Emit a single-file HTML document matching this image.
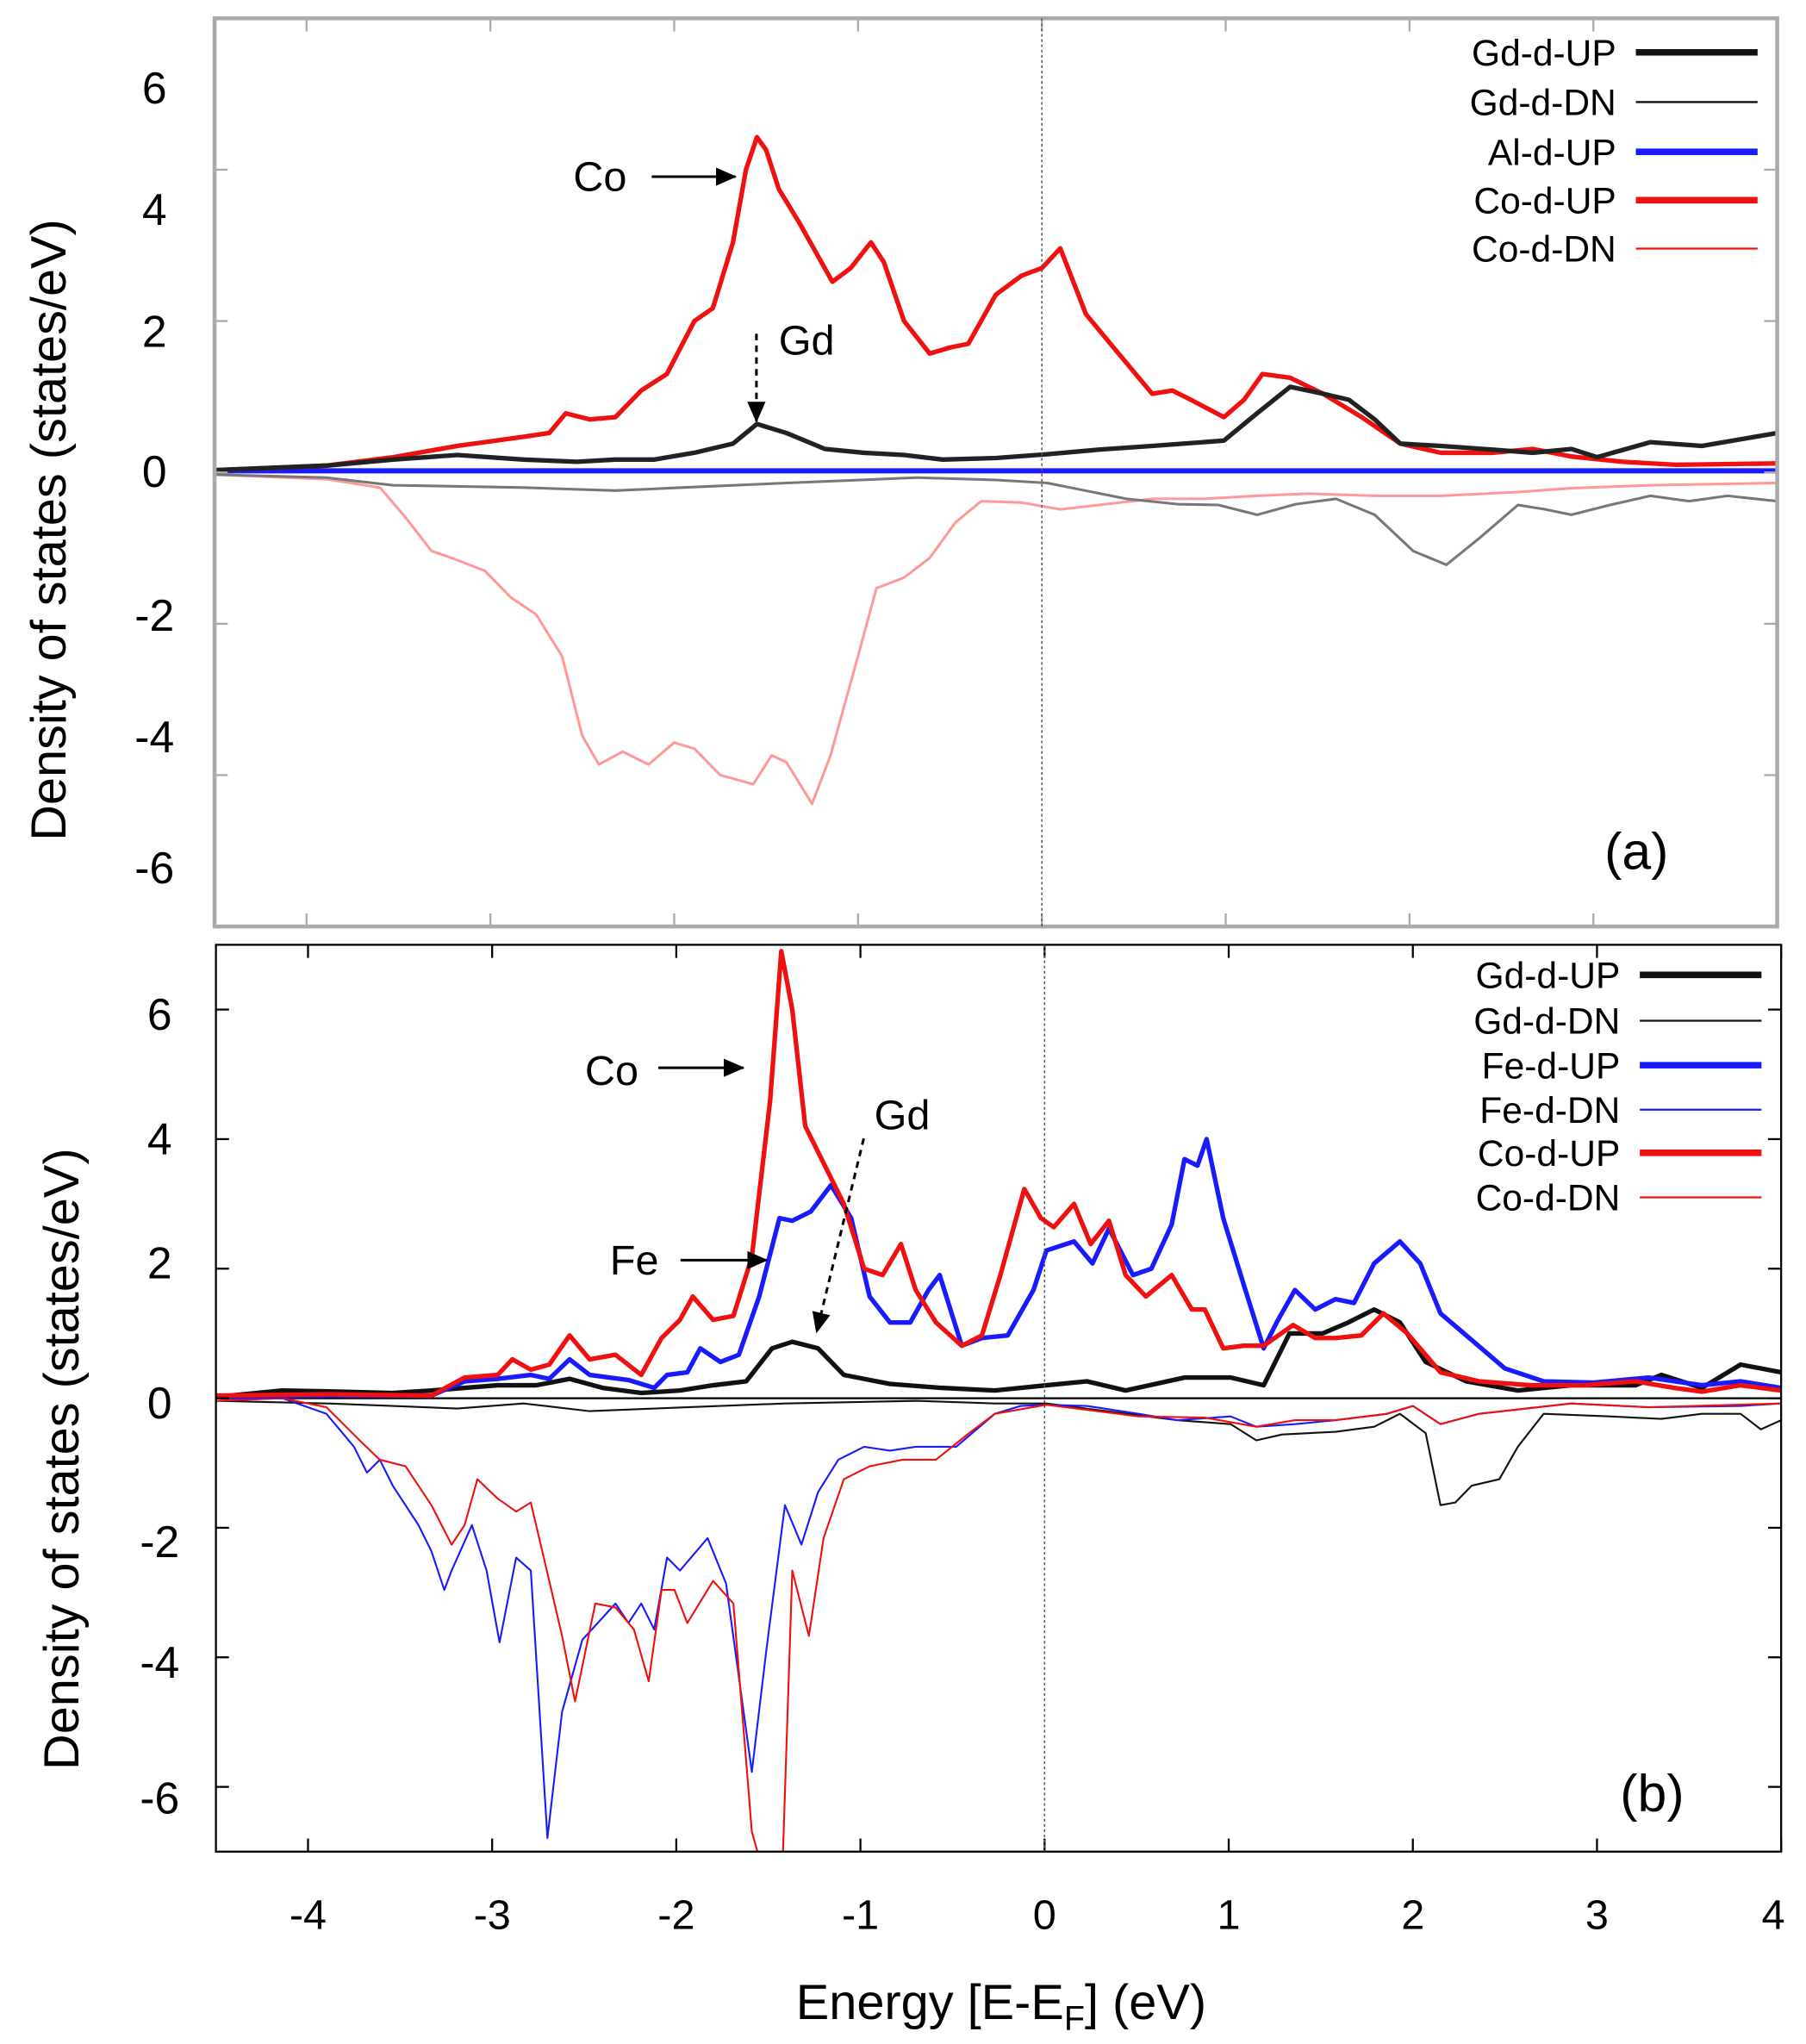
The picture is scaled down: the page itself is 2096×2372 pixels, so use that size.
<!DOCTYPE html>
<html><head><meta charset="utf-8"><style>
html,body{margin:0;padding:0;background:#fff}
svg{display:block}
text{font-family:"Liberation Sans",sans-serif;fill:#000}
</style></head><body>
<svg id="fig" width="2096" height="2372" viewBox="0 0 1380 1562" preserveAspectRatio="none" xmlns="http://www.w3.org/2000/svg">
<defs>
<clipPath id="clipA"><rect x="164" y="14" width="1194" height="694"/></clipPath>
<clipPath id="clipB"><rect x="165" y="722" width="1196" height="693"/></clipPath>
<marker id="arr" markerWidth="10" markerHeight="10" refX="9" refY="5" orient="auto" markerUnits="userSpaceOnUse"><path d="M0,0 L10,5 L0,10 z" fill="#000"/></marker>
<marker id="arr2" markerWidth="16" markerHeight="14" refX="15" refY="7" orient="auto" markerUnits="userSpaceOnUse"><path d="M0,0 L16,7 L0,14 z" fill="#000"/></marker>
</defs>
<g id="panelA"></g>
<g id="panelB"></g>
<text transform="translate(50,405) rotate(-90)" text-anchor="middle" font-size="38">Density of states (states/eV)</text>
<text transform="translate(60,1115) rotate(-90)" text-anchor="middle" font-size="38">Density of states (states/eV)</text>
<text x="765" y="1543" text-anchor="middle" font-size="38">Energy [E-E<tspan font-size="26" dy="8">F</tspan><tspan dy="-8">] (eV)</tspan></text>
</svg>
<script>
// ---------- Panel (a) data ----------
const aCoUpE=[-4.5,-3.89,-3.53,-3.18,-2.82,-2.68,-2.59,-2.46,-2.32,-2.18,-2.04,-1.89,-1.79,-1.68,-1.61,-1.55,-1.50,-1.43,-1.32,-1.14,-1.04,-0.93,-0.86,-0.75,-0.61,-0.50,-0.40,-0.25,-0.11,0,0.10,0.24,0.39,0.60,0.71,0.81,0.99,1.10,1.20,1.35,1.53,1.74,1.95,2.17,2.45,2.67,2.88,3.16,3.45,4];
const aCoUpV=[0.03,0.09,0.2,0.35,0.47,0.52,0.78,0.7,0.73,1.08,1.3,2.0,2.17,3.04,4.0,4.43,4.26,3.74,3.3,2.52,2.7,3.04,2.78,2.0,1.57,1.65,1.7,2.35,2.6,2.7,2.96,2.09,1.65,1.04,1.08,0.96,0.73,0.96,1.3,1.25,1.04,0.73,0.38,0.26,0.26,0.31,0.21,0.14,0.1,0.12];
const aGdUpE=[-4.5,-3.89,-3.53,-3.18,-2.82,-2.53,-2.32,-2.11,-1.89,-1.68,-1.55,-1.39,-1.18,-0.97,-0.75,-0.54,-0.25,0.03,0.31,0.60,0.99,1.17,1.35,1.53,1.67,1.81,1.95,2.17,2.45,2.67,2.88,3.02,3.31,3.59,4];
const aGdUpV=[0.03,0.09,0.17,0.23,0.17,0.14,0.17,0.17,0.26,0.38,0.64,0.52,0.31,0.26,0.23,0.17,0.19,0.24,0.3,0.35,0.42,0.78,1.13,1.04,0.96,0.7,0.38,0.35,0.3,0.26,0.31,0.2,0.4,0.35,0.52];
const aCoDnE=[-4.5,-3.89,-3.6,-3.46,-3.32,-3.21,-3.03,-2.89,-2.75,-2.61,-2.5,-2.41,-2.28,-2.14,-2.0,-1.89,-1.75,-1.57,-1.47,-1.39,-1.25,-1.15,-1.0,-0.9,-0.75,-0.61,-0.47,-0.33,-0.11,0.1,0.31,0.6,0.88,1.17,1.45,1.81,2.17,2.59,2.88,3.31,4];
const aCoDnV=[-0.03,-0.09,-0.2,-0.6,-1.04,-1.13,-1.3,-1.65,-1.88,-2.43,-3.48,-3.86,-3.69,-3.86,-3.57,-3.65,-4.0,-4.12,-3.74,-3.83,-4.38,-3.74,-2.43,-1.53,-1.39,-1.13,-0.66,-0.38,-0.4,-0.49,-0.43,-0.35,-0.35,-0.31,-0.28,-0.31,-0.31,-0.26,-0.21,-0.17,-0.14];
const aGdDnE=[-4.5,-3.89,-3.53,-2.82,-2.32,-1.96,-1.39,-0.68,-0.25,0.03,0.46,0.74,0.96,1.17,1.38,1.6,1.81,2.02,2.2,2.38,2.59,2.74,2.88,3.09,3.31,3.52,3.73,4];
const aGdDnV=[-0.03,-0.07,-0.17,-0.2,-0.24,-0.2,-0.14,-0.07,-0.1,-0.14,-0.35,-0.42,-0.43,-0.56,-0.42,-0.35,-0.56,-1.04,-1.22,-0.87,-0.43,-0.49,-0.56,-0.43,-0.31,-0.38,-0.31,-0.38];
const aAlUpE=[-4.5,-2,0,2,4];
const aAlUpV=[0.02,0.02,0.02,0.02,0.02];
// ---------- Panel (b) data ----------
const bCoUpE=[-4.5,-3.9,-3.33,-3.15,-2.97,-2.89,-2.79,-2.69,-2.58,-2.47,-2.33,-2.19,-2.08,-1.98,-1.91,-1.8,-1.69,-1.59,-1.49,-1.43,-1.37,-1.3,-1.2,-1.09,-0.98,-0.88,-0.78,-0.7,-0.59,-0.45,-0.34,-0.24,-0.11,-0.02,0.05,0.16,0.25,0.35,0.44,0.55,0.69,0.8,0.87,0.97,1.08,1.19,1.35,1.47,1.58,1.72,1.84,1.97,2.15,2.36,2.64,2.93,3.21,3.42,3.57,3.78,4];
const bCoUpV=[0.04,0.06,0.04,0.32,0.36,0.6,0.44,0.52,0.97,0.6,0.67,0.36,0.93,1.21,1.57,1.21,1.27,2.18,4.6,6.9,6.0,4.2,3.63,3.0,2.0,1.9,2.38,1.67,1.17,0.81,0.97,1.9,3.23,2.78,2.64,3.0,2.38,2.74,1.9,1.57,1.9,1.37,1.37,0.77,0.81,0.81,1.13,0.93,0.93,0.97,1.31,1.0,0.4,0.26,0.2,0.2,0.26,0.16,0.1,0.2,0.12];
const bFeUpE=[-4.5,-3.9,-3.33,-3.15,-2.97,-2.79,-2.69,-2.58,-2.47,-2.26,-2.12,-2.05,-1.94,-1.87,-1.76,-1.66,-1.55,-1.44,-1.37,-1.27,-1.16,-1.05,-0.95,-0.84,-0.73,-0.63,-0.57,-0.45,-0.34,-0.2,-0.06,0.01,0.16,0.26,0.35,0.48,0.58,0.69,0.76,0.83,0.88,0.97,1.08,1.19,1.26,1.36,1.47,1.58,1.68,1.79,1.93,2.04,2.15,2.29,2.5,2.71,2.98,3.28,3.57,3.78,4];
const bFeUpV=[0.02,0.04,0.04,0.26,0.3,0.36,0.3,0.6,0.36,0.28,0.16,0.36,0.4,0.77,0.56,0.67,1.57,2.78,2.74,2.88,3.29,2.78,1.57,1.17,1.17,1.67,1.9,0.81,0.93,0.97,1.67,2.28,2.42,2.08,2.62,1.9,2.0,2.68,3.69,3.59,4.0,2.78,1.77,0.77,1.17,1.67,1.37,1.53,1.47,2.08,2.42,2.08,1.31,0.97,0.46,0.26,0.24,0.32,0.2,0.26,0.16];
const bGdUpE=[-4.5,-4.14,-3.82,-3.54,-3.33,-2.97,-2.76,-2.58,-2.4,-2.19,-1.98,-1.8,-1.62,-1.48,-1.37,-1.23,-1.09,-0.84,-0.56,-0.27,0.01,0.23,0.44,0.76,1.01,1.19,1.33,1.51,1.65,1.79,1.93,2.07,2.29,2.57,2.86,3.21,3.35,3.57,3.78,4];
const bGdUpV=[0.02,0.12,0.1,0.08,0.12,0.2,0.2,0.3,0.16,0.08,0.12,0.2,0.26,0.77,0.87,0.77,0.36,0.22,0.16,0.12,0.2,0.26,0.12,0.32,0.32,0.2,1.0,1.0,1.17,1.37,1.17,0.56,0.26,0.12,0.2,0.2,0.36,0.16,0.52,0.4];
const bFeDnE=[-4.5,-4.14,-3.9,-3.75,-3.68,-3.61,-3.54,-3.4,-3.33,-3.26,-3.22,-3.11,-3.03,-2.96,-2.87,-2.79,-2.7,-2.62,-2.51,-2.33,-2.26,-2.19,-2.12,-2.05,-1.98,-1.83,-1.73,-1.59,-1.51,-1.41,-1.32,-1.23,-1.12,-0.98,-0.84,-0.7,-0.48,-0.27,-0.13,0.01,0.23,0.51,0.72,1.01,1.15,1.36,1.58,1.86,2.0,2.15,2.36,2.86,3.28,3.78,4];
const bFeDnV=[-0.04,0,-0.24,-0.75,-1.15,-0.95,-1.35,-1.96,-2.36,-2.96,-2.66,-1.96,-2.66,-3.77,-2.46,-2.66,-6.79,-4.84,-3.73,-3.17,-3.47,-3.17,-3.57,-2.46,-2.66,-2.16,-2.86,-5.77,-3.87,-1.65,-2.26,-1.45,-0.95,-0.75,-0.81,-0.75,-0.75,-0.24,-0.12,-0.1,-0.12,-0.24,-0.34,-0.28,-0.44,-0.4,-0.34,-0.24,-0.12,-0.4,-0.24,-0.08,-0.14,-0.12,-0.08];
const bCoDnE=[-4.5,-4.14,-3.9,-3.72,-3.61,-3.47,-3.33,-3.22,-3.15,-3.08,-2.97,-2.87,-2.79,-2.72,-2.62,-2.55,-2.44,-2.33,-2.23,-2.15,-2.08,-2.01,-1.94,-1.8,-1.69,-1.59,-1.48,-1.43,-1.37,-1.28,-1.2,-1.09,-0.95,-0.77,-0.59,-0.41,-0.27,0.01,0.51,0.87,1.15,1.36,1.58,1.86,2.0,2.15,2.36,2.86,3.28,4];
const bCoDnV=[-0.04,0,-0.14,-0.65,-0.95,-1.05,-1.65,-2.26,-1.96,-1.25,-1.55,-1.75,-1.61,-2.46,-3.67,-4.68,-3.17,-3.23,-3.57,-4.37,-2.96,-2.96,-3.47,-2.82,-3.17,-6.69,-7.8,-7.8,-2.66,-3.67,-2.16,-1.25,-1.05,-0.95,-0.95,-0.54,-0.24,-0.1,-0.28,-0.3,-0.44,-0.34,-0.34,-0.24,-0.12,-0.4,-0.24,-0.08,-0.14,-0.08];
const bGdDnE=[-4.5,-3.9,-3.54,-3.19,-2.83,-2.47,-2.12,-1.41,-0.7,-0.27,0.01,0.72,1.01,1.15,1.29,1.43,1.58,1.79,1.93,2.07,2.15,2.23,2.32,2.47,2.57,2.71,3.07,3.35,3.57,3.78,3.89,4];
const bGdDnV=[-0.04,-0.08,-0.12,-0.16,-0.08,-0.2,-0.16,-0.08,-0.04,-0.08,-0.08,-0.34,-0.4,-0.65,-0.56,-0.54,-0.52,-0.44,-0.24,-0.54,-1.65,-1.61,-1.35,-1.25,-0.75,-0.24,-0.28,-0.32,-0.24,-0.24,-0.48,-0.34];
const xTicks=[-4,-3,-2,-1,0,1,2,3,4];
const aYTicks=[-4,-2,0,2,4];
const bYTicks=[-6,-4,-2,0,2,4,6];

const NS="http://www.w3.org/2000/svg";
function mk(tag,attrs,parent){const e=document.createElementNS(NS,tag);for(const k in attrs)e.setAttribute(k,attrs[k]);parent.appendChild(e);return e;}
// axis functions
const A={x0:164,x1:1358,y0:14,y1:708,emin:-4.5,emax:4,vmin:-6,vmax:6};
const B={x0:165,x1:1361,y0:722,y1:1415,emin:-4.5,emax:4,vmin:-7,vmax:7};
function sx(P,e){return P.x0+(e-P.emin)/(P.emax-P.emin)*(P.x1-P.x0);}
function sy(P,v){return P.y1-(v-P.vmin)/(P.vmax-P.vmin)*(P.y1-P.y0);}
function series(g,P,E,V,color,w,name,clip){
  const pts=E.map((e,i)=>sx(P,e).toFixed(1)+","+sy(P,V[i]).toFixed(1)).join(" ");
  const p=mk("polyline",{points:pts,fill:"none",stroke:color,"stroke-width":w,"stroke-linejoin":"round","clip-path":clip},g);
  
  
}
function frame(g,P,col,w,yt,name){
  const r=mk("rect",{x:P.x0,y:P.y0,width:P.x1-P.x0,height:P.y1-P.y0,fill:"none",stroke:col,"stroke-width":w},g);
  
  
  xTicks.forEach(t=>{const x=sx(P,t);
    const a=mk("line",{x1:x,x2:x,y1:P.y0,y2:P.y0+10,stroke:col,"stroke-width":1.5},g);
    
    
    const b=mk("line",{x1:x,x2:x,y1:P.y1,y2:P.y1-10,stroke:col,"stroke-width":1.5},g);
    
    });
  yt.forEach(t=>{const y=sy(P,t);
    const a=mk("line",{x1:P.x0,x2:P.x0+10,y1:y,y2:y,stroke:col,"stroke-width":1.5},g);
    
    
    const b=mk("line",{x1:P.x1,x2:P.x1-10,y1:y,y2:y,stroke:col,"stroke-width":1.5},g);
    
    });
  const z=mk("line",{x1:sx(P,0),x2:sx(P,0),y1:P.y0,y2:P.y1,stroke:"#555","stroke-width":1,"stroke-dasharray":"2,2"},g);
  
  
}
function txt(g,x,y,s,size,anchor,name){const t=mk("text",{x:x,y:y,"font-size":size,"text-anchor":anchor||"start"},g);t.textContent=s;
  
  return t;}
function legend(g,x,y,label,color,w,name){
  txt(g,x,y+10,label,28,"end",name+"-label");
  const l=mk("line",{x1:x+15,x2:x+108,y1:y,y2:y,stroke:color,"stroke-width":w},g);
  
  
}
function arrow(g,x1,y1,x2,y2,dash,name){
  const a=mk("line",{x1:x1,y1:y1,x2:x2,y2:y2,stroke:"#000","stroke-width":2,"marker-end":"url(#arr2)"},g);
  if(dash)a.setAttribute("stroke-dasharray","5,4");
  
  
}
// Panel A
const gA=document.getElementById("panelA");
series(gA,A,aCoDnE,aCoDnV,"#f99",2,"co-d-dn-a","url(#clipA)");
series(gA,A,aGdDnE,aGdDnV,"#777",2,"gd-d-dn-a","url(#clipA)");
series(gA,A,aAlUpE,aAlUpV,"#1a1aff",4,"al-d-up-a","url(#clipA)");
series(gA,A,aCoUpE,aCoUpV,"#f01010",3.5,"co-d-up-a","url(#clipA)");
series(gA,A,aGdUpE,aGdUpV,"#222",3.5,"gd-d-up-a","url(#clipA)");
frame(gA,A,"#aaa",3,aYTicks,"plot-frame-a");
[[6,67],[4,160],[2,253],[0,360],[-2,470],[-4,563],[-6,663]].forEach(p=>txt(gA,118,p[1]+12,String(p[0]),34,"middle","y-tick-label-a"));
legend(gA,1235,40,"Gd-d-UP","#111",5,"legend-gd-up-a");
legend(gA,1235,78,"Gd-d-DN","#111",1.5,"legend-gd-dn-a");
legend(gA,1235,116,"Al-d-UP","#1a1aff",5,"legend-al-up-a");
legend(gA,1235,153,"Co-d-UP","#f01010",5,"legend-co-up-a");
legend(gA,1235,190,"Co-d-DN","#f01010",1.5,"legend-co-dn-a");
txt(gA,438,146,"Co",32,"start","annotation-co-a");
arrow(gA,498,135,562,135,false,"arrow-co-a");
txt(gA,595,271,"Gd",32,"start","annotation-gd-a");
arrow(gA,578,255,578,322,true,"arrow-gd-a");
txt(gA,1226,664,"(a)",40,"start","panel-label-a");
// Panel B
const gB=document.getElementById("panelB");
const zl=mk("line",{x1:B.x0,x2:B.x1,y1:sy(B,0),y2:sy(B,0),stroke:"#000","stroke-width":1.5},gB);


series(gB,B,bGdDnE,bGdDnV,"#111",1.4,"gd-d-dn-b","url(#clipB)");
series(gB,B,bFeDnE,bFeDnV,"#1a1aff",1.4,"fe-d-dn-b","url(#clipB)");
series(gB,B,bCoDnE,bCoDnV,"#f01010",1.4,"co-d-dn-b","url(#clipB)");
series(gB,B,bGdUpE,bGdUpV,"#111",3.5,"gd-d-up-b","url(#clipB)");
series(gB,B,bFeUpE,bFeUpV,"#1a1aff",3.5,"fe-d-up-b","url(#clipB)");
series(gB,B,bCoUpE,bCoUpV,"#f01010",3.5,"co-d-up-b","url(#clipB)");
frame(gB,B,"#000",1.5,bYTicks,"plot-frame-b");
[[6,775],[4,870],[2,965],[0,1072],[-2,1178],[-4,1270],[-6,1374]].forEach(p=>txt(gB,122,p[1]+12,String(p[0]),34,"middle","y-tick-label-b"));
xTicks.forEach(t=>txt(gB,sx(B,t)-(t===4?6:0),1474,String(t),32,"middle","x-tick-label"));
legend(gB,1238,745,"Gd-d-UP","#111",5,"legend-gd-up-b");
legend(gB,1238,780,"Gd-d-DN","#111",1.5,"legend-gd-dn-b");
legend(gB,1238,814,"Fe-d-UP","#1a1aff",5,"legend-fe-up-b");
legend(gB,1238,848,"Fe-d-DN","#1a1aff",1.5,"legend-fe-dn-b");
legend(gB,1238,881,"Co-d-UP","#f01010",5,"legend-co-up-b");
legend(gB,1238,915,"Co-d-DN","#f01010",1.5,"legend-co-dn-b");
txt(gB,447,829,"Co",32,"start","annotation-co-b");
arrow(gB,503,816,568,816,false,"arrow-co-b");
txt(gB,466,974,"Fe",32,"start","annotation-fe-b");
arrow(gB,520,963,586,963,false,"arrow-fe-b");
txt(gB,668,863,"Gd",32,"start","annotation-gd-b");
arrow(gB,660,870,624,1018,true,"arrow-gd-b");
txt(gB,1238,1384,"(b)",40,"start","panel-label-b");
</script>
</body></html>
